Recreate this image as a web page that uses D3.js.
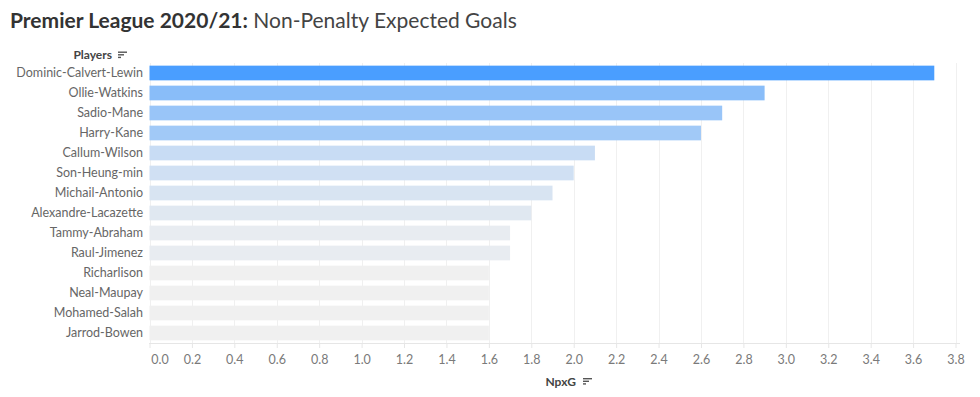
<!DOCTYPE html>
<html>
<head>
<meta charset="utf-8">
<script src="https://cdn.jsdelivr.net/npm/d3@7"></script>
<style>
  body { margin: 0; background: #fff; }
  svg text { font-family: Lato, "Open Sans", sans-serif; }
</style>
</head>
<body>
<div id="chart"></div>
<script>
// data
var players = ["Dominic-Calvert-Lewin", "Ollie-Watkins", "Sadio-Mane", "Harry-Kane",
  "Callum-Wilson", "Son-Heung-min", "Michail-Antonio", "Alexandre-Lacazette",
  "Tammy-Abraham", "Raul-Jimenez", "Richarlison", "Neal-Maupay",
  "Mohamed-Salah", "Jarrod-Bowen"]
var npxg = [3.7, 2.9, 2.7, 2.6, 2.1, 2.0, 1.9, 1.8, 1.7, 1.7, 1.6, 1.6, 1.6, 1.6]
var xTicks = [0, 0.2, 0.4, 0.6, 0.8, 1.0, 1.2, 1.4, 1.6, 1.8, 2.0, 2.2, 2.4, 2.6, 2.8, 3.0, 3.2, 3.4, 3.6, 3.8]

var width = 980, height = 397

var svg = d3.select("#chart")
  .append("svg")
    .attr("width", width)
    .attr("height", height)

var data = players.map(function(p, i) { return {player: p, value: npxg[i]} })

var x = d3.scaleLinear()
  .domain([0, 3.8])
  .range([149.5, 955.5])

var y = d3.scaleBand()
  .domain(players)
  .range([63, 343])
  .paddingInner(0.265)
  .paddingOuter(0.1325)

var myColor = d3.scaleLinear()
  .domain([1.6, 3.7])
  .range(["#f0f0f0", "#4a9eff"])

// title
var title = svg.append("text")
  .attr("x", 10)
  .attr("y", 28)
  .style("font-size", "21px")
  .style("fill", "#333")
title.append("tspan").style("font-weight", "bold").text("Premier League 2020/21:")
title.append("tspan").style("fill", "#444").text(" Non-Penalty Expected Goals")

// gridlines
svg.append("g")
  .selectAll("line")
  .data(xTicks)
  .enter()
  .append("line")
    .attr("x1", function(d) { return Math.round(x(d)) + 0.5 })
    .attr("x2", function(d) { return Math.round(x(d)) + 0.5 })
    .attr("y1", 63)
    .attr("y2", 343)
    .style("stroke", "#f0f0f0")

// bars
svg.append("g")
  .selectAll("rect")
  .data(data)
  .enter()
  .append("rect")
    .attr("x", x(0))
    .attr("y", function(d) { return y(d.player) })
    .attr("width", function(d) { return x(d.value) - x(0) })
    .attr("height", y.bandwidth())
    .style("fill", function(d) { return myColor(d.value) })

// x axis
var xAxis = svg.append("g")
  .attr("transform", "translate(0,343)")
  .call(d3.axisBottom(x).tickValues(xTicks).tickSize(5).tickPadding(7)
    .tickFormat(d3.format(".1f")))
xAxis.select(".domain").attr("stroke", "#e6e6e6").attr("d", "M149,0.5H960")
xAxis.selectAll(".tick line").attr("stroke", "#e6e6e6")
xAxis.selectAll(".tick text")
  .style("font-size", "12.5px")
  .style("fill", "#7a7a7a")
  .attr("dx", function(d) { return d === 0 ? 10 : 0 })

// y axis labels
var yAxis = svg.append("g")
  .attr("transform", "translate(143,0)")
  .call(d3.axisLeft(y).tickSize(0).tickPadding(0))
yAxis.select(".domain").remove()
yAxis.selectAll(".tick text")
  .style("font-size", "12.5px")
  .style("fill", "#666")

// axis titles with sort icons
function sortIcon(x0, y0) {
  var g = svg.append("g").attr("transform", "translate(" + x0 + "," + y0 + ")")
  ;[9, 6, 3].forEach(function(w, i) {
    g.append("rect").attr("x", 0).attr("y", i * 2.6).attr("width", w).attr("height", 1.4)
      .style("fill", "#555")
  })
}
svg.append("text")
  .attr("x", 112)
  .attr("y", 59)
  .attr("text-anchor", "end")
  .style("font-size", "12px")
  .style("font-weight", "bold")
  .style("fill", "#444")
  .text("Players")
sortIcon(118, 51.5)

svg.append("text")
  .attr("x", 576)
  .attr("y", 386)
  .attr("text-anchor", "end")
  .style("font-size", "12px")
  .style("font-weight", "bold")
  .style("fill", "#444")
  .text("NpxG")
sortIcon(583, 378)
</script>
</body>
</html>
